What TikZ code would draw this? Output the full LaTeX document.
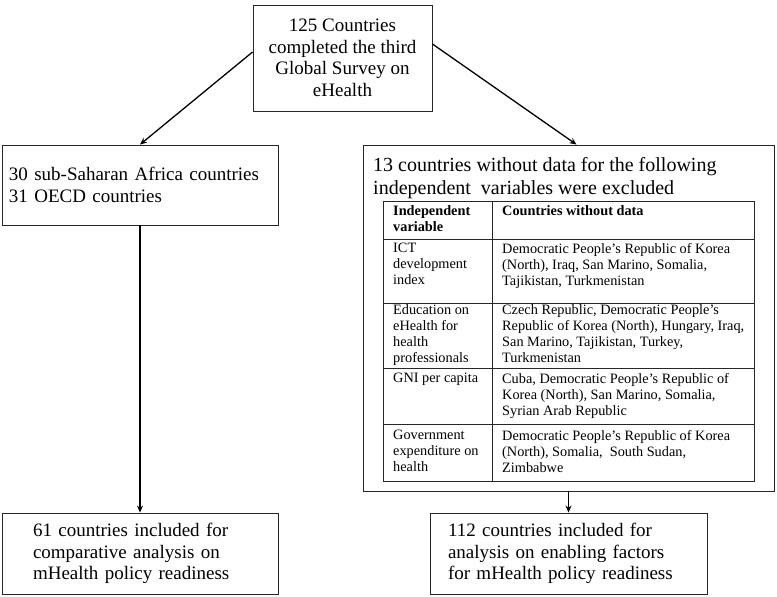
\documentclass[tikz,border=0pt]{standalone}
\usepackage{fontspec}
\setmainfont{Liberation Serif}
\usetikzlibrary{arrows.meta}
\newcommand\bigtxt{\fontsize{19}{21.5}\selectfont}
\newcommand\titletxt{\fontsize{20}{23}\selectfont}
\newcommand\smalltxt{\fontsize{14.3}{16}\selectfont}
\begin{document}
\begin{tikzpicture}[x=1pt,y=-1pt,
  box/.style={draw=black!85, line width=0.9pt, rectangle, inner sep=0pt, font=\bigtxt},
  cell/.style={anchor=north west, inner sep=0pt, align=left, font=\smalltxt},
  arr/.style={line width=1.3pt, -{Stealth[length=7pt,width=6pt]}},
  tgrid/.style={draw=black!85, line width=0.9pt}]
\useasboundingbox (0,0) rectangle (777,597);
% boxes
\node[box, minimum width=179, minimum height=106, align=center] (top) at (342.5,58)
  {125 Countries\\completed the third\\Global Survey on\\eHealth};
\node[box, minimum width=276, minimum height=80, text width=262, align=left] (lbox) at (140,185)
  {30 sub-Saharan Africa countries\\31 OECD countries};
\node[box, minimum width=411, minimum height=346] (rbox) at (568.5,318) {};
\node[cell, font=\titletxt, anchor=north west] (rtitle) at (373,157)
  {13 countries without data for the following\\independent~ variables were excluded};
\node[box, minimum width=276, minimum height=81, text width=214, align=left] (llow) at (140,553.5)
  {61 countries included for\\comparative analysis on\\mHealth policy readiness};
\node[box, minimum width=277, minimum height=81, text width=241, align=left] (rlow) at (568.5,553.5)
  {112 countries included for\\analysis on enabling factors\\for mHealth policy readiness};
% table grid
\draw[tgrid] (383,201) rectangle (754,481);
\draw[tgrid] (492,201) -- (492,481);
\foreach \yy in {239,303,368,424} \draw[tgrid] (383,\yy) -- (754,\yy);
% table cells
\node[cell] (h1) at (393,205) {\textbf{Independent}\\\textbf{variable}};
\node[cell] (h2) at (502,205) {\textbf{Countries without data}};
\node[cell] (r1a) at (393,243) {ICT\\development\\index};
\node[cell] (r1b) at (502,243) {Democratic People’s Republic of Korea\\(North), Iraq, San Marino, Somalia,\\Tajikistan, Turkmenistan};
\node[cell] (r2a) at (393,304.5) {Education on\\eHealth for\\health\\professionals};
\node[cell] (r2b) at (502,304.5) {Czech Republic, Democratic People’s\\Republic of Korea (North), Hungary, Iraq,\\San Marino, Tajikistan, Turkey,\\Turkmenistan};
\node[cell] (r3a) at (393,373) {GNI per capita};
\node[cell] (r3b) at (502,373) {Cuba, Democratic People’s Republic of\\Korea (North), San Marino, Somalia,\\Syrian Arab Republic};
\node[cell] (r4a) at (393,430) {Government\\expenditure on\\health};
\node[cell] (r4b) at (502,430) {Democratic People’s Republic of Korea\\(North), Somalia,~ South Sudan,\\Zimbabwe};
% arrows
\draw[arr] ([yshift=6pt]top.west) -- (lbox.north);
\draw[arr] ([yshift=14pt]top.east) -- ([xshift=8pt]rbox.north);
\draw[arr] (lbox.south) -- (llow.north);
\draw[arr] (rbox.south) -- (rlow.north);
\end{tikzpicture}
\end{document}
